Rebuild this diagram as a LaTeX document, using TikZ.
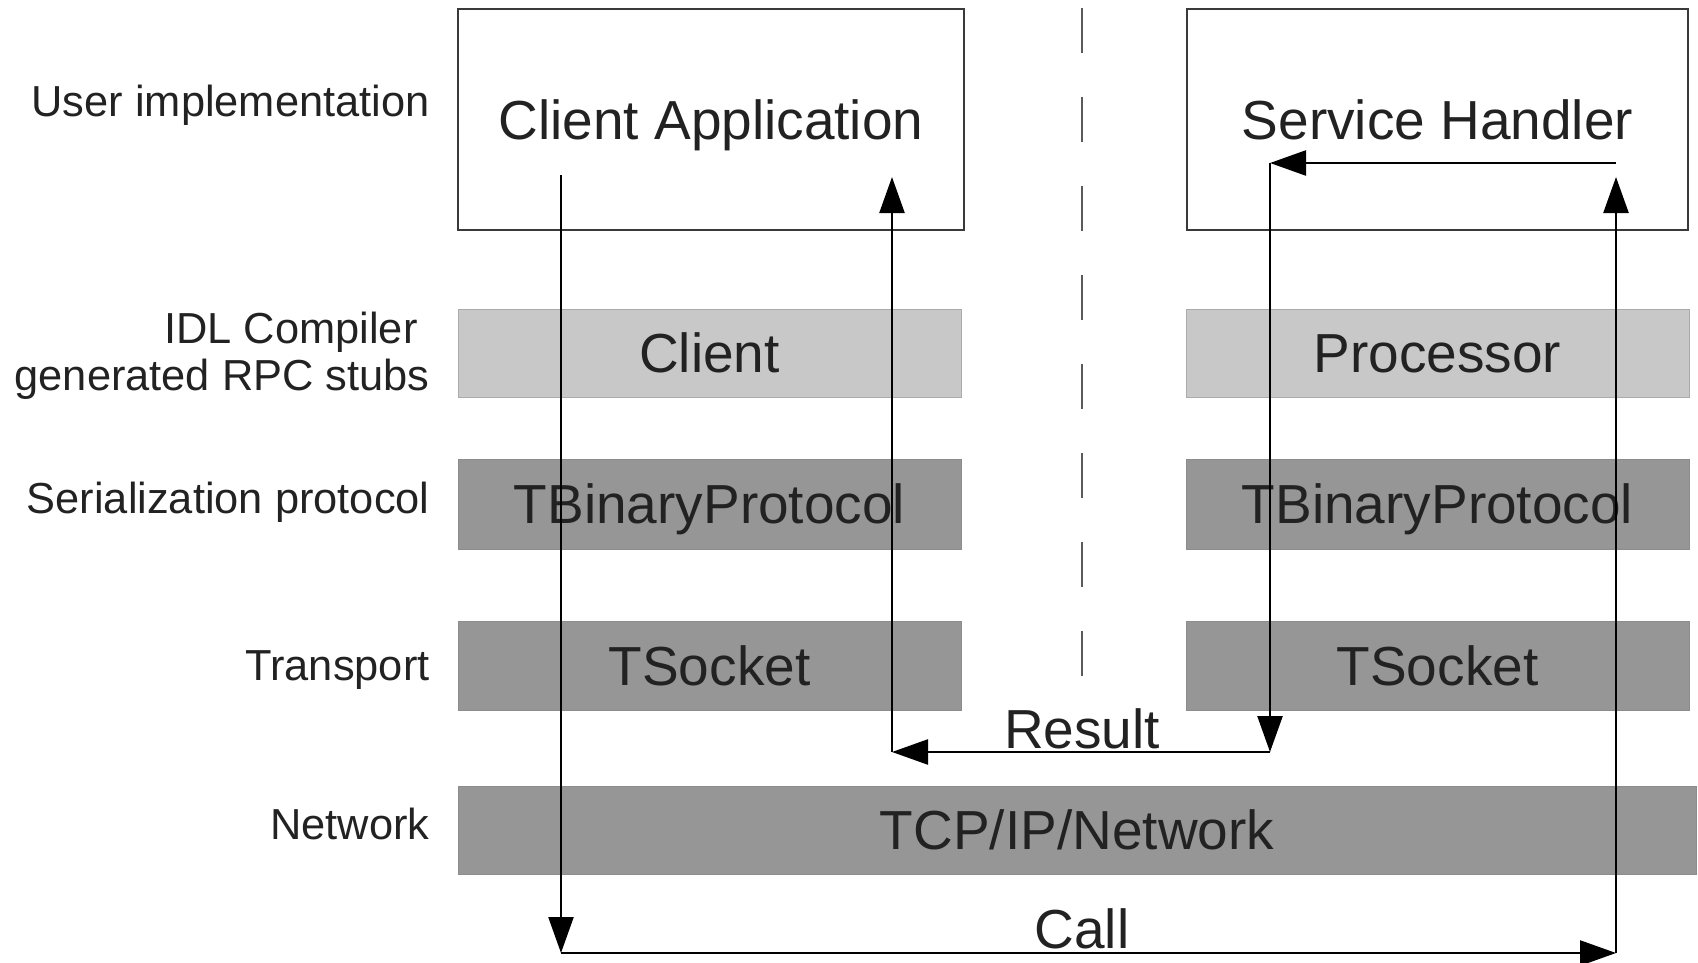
\documentclass[tikz,border=0pt]{standalone}
\usepackage{fontspec}
\setmainfont{Liberation Sans}
\usetikzlibrary{arrows.meta}
\definecolor{ink}{HTML}{222222}
\definecolor{boxline}{HTML}{3A3A3A}
\definecolor{stubfill}{HTML}{C8C8C8}
\definecolor{stubline}{HTML}{ABABAB}
\definecolor{layerfill}{HTML}{969696}
\definecolor{layerline}{HTML}{8C8C8C}
\definecolor{divider}{HTML}{5A5A5A}
\begin{document}
\begin{tikzpicture}[x=0.5pt,y=-0.5pt,
  bigtext/.style={font=\fontsize{27.5pt}{33pt}\selectfont, text=ink,
    text height=19.7pt, text depth=0pt, inner sep=0pt},
  appbox/.style={bigtext, draw=boxline, line width=1.2pt, fill=white,
    minimum height=110.5pt},
  stubbar/.style={bigtext, draw=stubline, line width=0.5pt, fill=stubfill,
    minimum width=251.5pt, minimum height=44pt},
  layerbar/.style={bigtext, draw=layerline, line width=0.5pt, fill=layerfill,
    minimum width=251.5pt, minimum height=44.5pt},
  layerlabel/.style={font=\fontsize{21.7pt}{26pt}\selectfont, text=ink,
    inner sep=0pt, anchor=base east},
  flowlabel/.style={font=\fontsize{27.5pt}{33pt}\selectfont, text=ink,
    inner sep=0pt, anchor=base},
  flow/.style={draw=black, line width=1.2pt,
    -{Triangle[length=18pt,width=12.5pt]}}
]
\useasboundingbox (0,0) rectangle (1698,963);

% client / server divider
\draw[divider, line width=1pt, dash pattern=on 22.5pt off 22pt] (1082,8) -- (1082,676);

% user implementation boxes
\node[appbox, minimum width=253pt] (capp) at (711,119.5) {Client Application};
\node[appbox, minimum width=250.5pt] (shandler) at (1437.5,119.5) {Service Handler};

% generated stubs
\node[stubbar] (client) at (709.5,353) {Client};
\node[stubbar] (proc) at (1437.5,353) {Processor};

% protocol and transport layers
\node[layerbar, minimum height=45pt] (cproto) at (709.5,504) {TBinaryProtocol};
\node[layerbar, minimum height=45pt] (sproto) at (1437.5,504) {TBinaryProtocol};
\node[layerbar] (csock) at (709.5,665.5) {TSocket};
\node[layerbar] (ssock) at (1437.5,665.5) {TSocket};
\node[layerbar, minimum width=619pt, minimum height=44pt] (net) at (1077,830) {TCP/IP/Network};

% layer names
\node[layerlabel] (lUser) at (430,117) {User implementation};
\node[layerlabel] (lIdlA) at (418,343) {IDL Compiler};
\node[layerlabel] (lIdlB) at (430,390) {generated RPC stubs};
\node[layerlabel] (lSer) at (430,513) {Serialization protocol};
\node[layerlabel] (lTr) at (430,680) {Transport};
\node[layerlabel] (lNet) at (430,839) {Network};

% call / result labels
\node[flowlabel] (result) at (1082,748) {Result};
\node[flowlabel] (call) at (1082,948) {Call};

% bend points of the request and response paths
\coordinate (callStart) at (561,175);
\coordinate (callLow) at (561,953);
\coordinate (callEnd) at (1616,953);
\coordinate (srvIn) at (1616,177);
\coordinate (srvOut) at (1616,163);
\coordinate (retTop) at (1270,163);
\coordinate (retLow) at (1270,752);
\coordinate (cliLow) at (892,752);
\coordinate (cliIn) at (892,177);

% request path
\draw[flow] (callStart) -- (callLow);
\draw[flow] (callLow) -- (callEnd);
\draw[flow] (callEnd) -- (srvIn);

% response path
\draw[flow] (srvOut) -- (retTop);
\draw[flow] (retTop) -- (retLow);
\draw[flow] (retLow) -- (cliLow);
\draw[flow] (cliLow) -- (cliIn);
\end{tikzpicture}
\end{document}
